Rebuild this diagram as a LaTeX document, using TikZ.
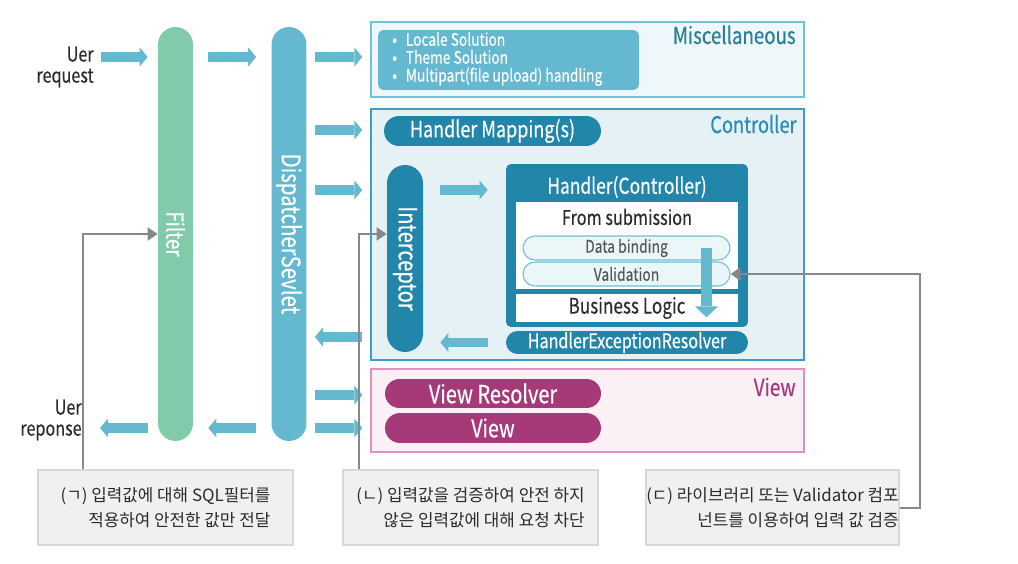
\documentclass[tikz,border=0pt]{standalone}
\usepackage{fontspec}
\setmainfont{Noto Sans CJK KR}
\newfontfamily\cnd[FakeStretch=0.8,FakeBold=0.15]{Noto Sans CJK KR}
\newfontfamily\cndb[FakeStretch=0.8,FakeBold=0.4]{Noto Sans CJK KR}
\usetikzlibrary{arrows.meta}
\definecolor{lblue}{HTML}{64B9D0}
\definecolor{fgreen}{HTML}{82CBAA}
\definecolor{dteal}{HTML}{2285AA}
\definecolor{miscfill}{HTML}{EEF8FB}
\definecolor{miscdraw}{HTML}{72C2D8}
\definecolor{ctrlfill}{HTML}{E5F1F5}
\definecolor{ctrldraw}{HTML}{3D9EC4}
\definecolor{viewfill}{HTML}{FBF0F6}
\definecolor{viewdraw}{HTML}{E190C0}
\definecolor{magent}{HTML}{A63A79}
\definecolor{notefill}{HTML}{F0F0F0}
\definecolor{notedraw}{HTML}{D8D8D8}
\definecolor{gline}{HTML}{888888}
\definecolor{subfill}{HTML}{EBF6F9}
\definecolor{subdraw}{HTML}{6CC0D6}
\definecolor{misct}{HTML}{2C7F96}
\definecolor{ctrlt}{HTML}{2A8CB8}
\definecolor{tdark}{HTML}{2B2B2B}
\newcommand\myfs[2]{\cnd\fontsize{#1}{#2}\selectfont}
\newcommand\myfb[2]{\cndb\fontsize{#1}{#2}\selectfont}
\newcommand\korfs[2]{\fontsize{#1}{#2}\selectfont}
\tikzset{
  bar/.style={inner sep=0, rounded corners=0.35cm, minimum width=0.7cm, minimum height=8.28cm},
  area/.style={inner sep=0, line width=0.8pt, minimum width=8.66cm},
  pill/.style={inner sep=0, text=white},
  subpill/.style={inner sep=0, fill=subfill, draw=subdraw, line width=0.6pt, minimum width=4.14cm, minimum height=0.48cm, rounded corners=0.24cm, text=tdark!80, font=\myfs{9.9}{11}},
  note/.style={inner sep=0, fill=notefill, draw=notedraw, line width=0.7pt, minimum width=5.1cm, minimum height=1.5cm, align=right, font=\korfs{9.6}{14}, text=tdark},
  title/.style={inner sep=0, anchor=base east},
  blk/.style={draw=lblue, line width=0.2cm, -{Triangle[length=0.16cm,width=0.38cm,line width=0pt]}},
  sh8/.style={shorten <=0.16cm, shorten >=0.16cm},
  downarr/.style={draw=lblue, line width=0.22cm, -{Triangle[length=0.22cm,width=0.46cm,line width=0pt]}, shorten >=0.1cm},
  gconn/.style={draw=gline, line width=0.04cm, -{Triangle[length=0.2cm,width=0.26cm]}},
}
\begin{document}
\begin{tikzpicture}[x=0.02cm,y=-0.02cm]
\useasboundingbox[fill=white] (0,0) rectangle (1018,564);

% rows for the block arrows
\coordinate (r1) at (0,57);
\coordinate (r2) at (0,130);
\coordinate (r3) at (0,190);
\coordinate (r4) at (0,337);
\coordinate (r5) at (0,395);
\coordinate (r6) at (0,428);

% side texts
\node[align=right, anchor=east, inner sep=0, font=\myfs{11.5}{12}, text=tdark] (req) at (94,67) {Uer\\request};
\node[align=right, anchor=east, inner sep=0, font=\myfs{11.5}{12}, text=tdark] (resp) at (82,420) {Uer\\reponse};

% vertical bars
\node[bar, fill=fgreen, label={[rotate=-90, text=white, font=\myfb{13.3}{14}, inner sep=0]center:Filter}] (filter) at (175.5,234) {};
\node[bar, fill=lblue, label={[rotate=-90, text=white, font=\myfb{14.5}{15}, inner sep=0]center:DispatcherSevlet}] (ds) at (289,234) {};

% Miscellaneous
\node[area, fill=miscfill, draw=miscdraw, minimum height=1.5cm] (misc) at (587.5,59.5) {};
\node[inner sep=0, fill=lblue, rounded corners=0.12cm, minimum width=5.22cm, minimum height=1.2cm] (miscin) at (508.5,60) {};
\node[inner sep=0, anchor=west, align=left, text=white, font=\myfb{9.8}{10.2}] (bul) at (392,59) {•\hspace{5pt}Locale Solution\\•\hspace{5pt}Theme Solution\\•\hspace{5pt}Multipart(file upload) handling};
\node[title, text=misct, font=\myfb{13.3}{15}] (misctitle) at (796,44) {Miscellaneous};

% Controller
\node[area, fill=ctrlfill, draw=ctrldraw, minimum height=5.02cm] (ctrl) at (587.5,234.5) {};
\node[title, text=ctrlt, font=\myfb{13}{15}] (ctrltitle) at (797,133) {Controller};
\node[pill, fill=dteal, minimum width=4.34cm, minimum height=0.6cm, rounded corners=0.3cm, font=\myfb{12.8}{14}] (hm) at (492.5,131) {Handler Mapping(s)};
\node[inner sep=0, fill=dteal, minimum width=0.72cm, minimum height=3.74cm, rounded corners=0.36cm, label={[rotate=-90, text=white, font=\myfb{14.3}{15}, inner sep=0]center:Interceptor}] (inter) at (405,258.5) {};
\node[inner sep=0, fill=dteal, minimum width=4.84cm, minimum height=3.26cm, rounded corners=0.1cm] (handler) at (627,245.5) {};
\node[inner sep=0, text=white, font=\myfb{12.4}{14}] (htitle) at (627,187) {Handler(Controller)};
\node[inner sep=0, fill=white, minimum width=4.44cm, minimum height=1.74cm] (wa) at (627,245.5) {};
\node[inner sep=0, text=tdark, font=\myfs{11.6}{13}] (fsub) at (627,217) {From submission};
\node[subpill] (db) at (626.5,248) {Data binding};
\node[subpill] (val) at (626.5,274) {Validation};
\node[inner sep=0, fill=white, minimum width=4.44cm, minimum height=0.56cm, text=tdark, font=\myfs{12.2}{13}] (bl) at (627,308) {Business Logic};
\node[pill, fill=dteal, minimum width=4.84cm, minimum height=0.46cm, rounded corners=0.23cm, font=\myfb{11.5}{12}] (her) at (627,342.5) {HandlerExceptionResolver};

% View
\node[area, fill=viewfill, draw=viewdraw, minimum height=1.66cm] (view) at (587.5,410.5) {};
\node[title, text=magent, font=\myfb{13.5}{15}] (viewtitle) at (796,396) {View};
\node[pill, fill=magent, minimum width=4.32cm, minimum height=0.58cm, rounded corners=0.29cm, font=\myfb{14.2}{15}] (vr) at (493,393.5) {View Resolver};
\node[pill, fill=magent, minimum width=4.32cm, minimum height=0.6cm, rounded corners=0.3cm, font=\myfb{14}{15}] (vw) at (493,428) {View};

% notes
\node[note] (n1) at (165.5,507.5) {(ㄱ) 입력값에 대해 SQL필터를\\적용하여 안전한 값만 전달};
\node[note] (n2) at (470.5,507.5) {(ㄴ) 입력값을 검증하여 안전 하지\\않은 입력값에 대해 요청 차단};
\node[note, minimum width=5.06cm] (n3) at (772.5,507.5) {(ㄷ) 라이브러리 또는 Validator 컴포\\넌트를 이용하여 입력 값 검증};

% block arrows
\draw[blk, shorten <=0.14cm, shorten >=0.2cm] (req.east |- r1) -- (filter.west |- r1);
\draw[blk, shorten <=0.3cm, shorten >=0.3cm] (filter.east |- r1) -- (ds.west |- r1);
\draw[blk, sh8] (ds.east |- r1) -- (misc.west |- r1);
\draw[blk, sh8] (ds.east |- r2) -- (ctrl.west |- r2);
\draw[blk, sh8] (ds.east |- r3) -- (ctrl.west |- r3);
\draw[blk, sh8] (ctrl.west |- r4) -- (ds.east |- r4);
\draw[blk, sh8] (ds.east |- r5) -- (view.west |- r5);
\draw[blk, sh8] (ds.east |- r6) -- (view.west |- r6);
\draw[blk, shorten <=0.3cm, shorten >=0.3cm] (ds.west |- r6) -- (filter.east |- r6);
\draw[blk, shorten <=0.2cm, shorten >=0.36cm] (filter.west |- r6) -- (resp.east |- r6);
\draw[blk, shorten <=0.34cm, shorten >=0.36cm] (inter.east |- r3) -- (handler.west |- r3);
\draw[blk, shorten <=0.36cm, shorten >=0.34cm] (her.west) -- (inter.east |- her.west);
\draw[downarr] ([xshift=-0.48cm]db.east) -- ([xshift=-0.48cm]db.east |- bl.south);

% gray connectors
\draw[gconn] ([xshift=0.92cm]n1.north west) |- (filter.west);
\draw[gconn] ([xshift=0.34cm]n2.north west) |- ([yshift=0.49cm]inter.west);
\draw[gconn] (n3.east) -- ++(20,0) |- (val.east);
\end{tikzpicture}
\end{document}
